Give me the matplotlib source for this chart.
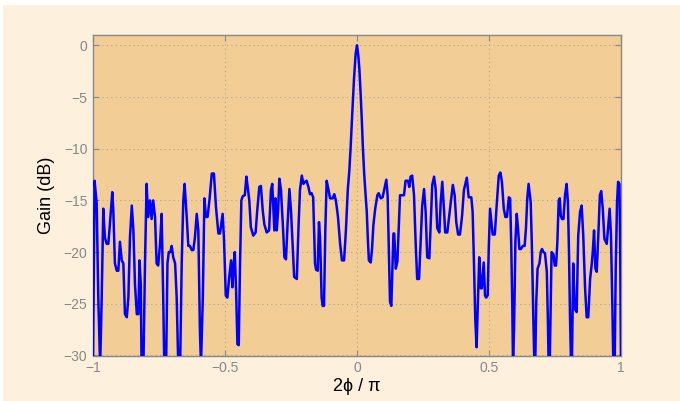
import numpy as np
import matplotlib
matplotlib.use('Agg')
import matplotlib.pyplot as plt
from matplotlib.patches import Rectangle

# normalised angle 2*phi/pi, left half
x_left = [
    -1.000, -0.994, -0.986, -0.980, -0.973, -0.967, -0.961, -0.955, -0.948, -0.942,
    -0.936, -0.927, -0.923, -0.917, -0.910, -0.904, -0.898, -0.891, -0.885, -0.879,
    -0.872, -0.866, -0.860, -0.853, -0.847, -0.841, -0.834, -0.828, -0.824, -0.819,
    -0.816, -0.809, -0.803, -0.797, -0.791, -0.784, -0.778, -0.772, -0.765, -0.759,
    -0.753, -0.746, -0.740, -0.734, -0.730, -0.723, -0.718, -0.713, -0.707, -0.702,
    -0.696, -0.689, -0.683, -0.677, -0.670, -0.664, -0.658, -0.653, -0.645, -0.639,
    -0.633, -0.626, -0.620, -0.614, -0.607, -0.601, -0.595, -0.591, -0.584, -0.578,
    -0.572, -0.566, -0.559, -0.550, -0.542, -0.534, -0.525, -0.519, -0.509, -0.504,
    -0.497, -0.491, -0.484, -0.477, -0.472, -0.467, -0.463, -0.458, -0.453, -0.448,
    -0.443, -0.438, -0.433, -0.425, -0.419, -0.414, -0.408, -0.402, -0.393, -0.384,
    -0.378, -0.370, -0.364, -0.357, -0.351, -0.342, -0.333, -0.326, -0.321, -0.317,
    -0.313, -0.309, -0.304, -0.299, -0.294, -0.288, -0.281, -0.275, -0.269, -0.263,
    -0.256, -0.250, -0.244, -0.238, -0.228, -0.222, -0.216, -0.209, -0.203, -0.197,
    -0.191, -0.184, -0.178, -0.172, -0.166, -0.159, -0.155, -0.149, -0.144, -0.140,
    -0.134, -0.130, -0.125, -0.120, -0.115, -0.110, -0.102, -0.092, -0.086, -0.080,
    -0.072, -0.064, -0.057, -0.049, -0.042, -0.035, -0.029, -0.024, -0.018, -0.011,
    -0.005,
]
gain_left = [
    -31.0, -13.1, -15.3, -24.4, -31.0, -24.4, -15.8, -18.6, -19.2, -19.2,
    -17.3, -14.2, -16.0, -21.1, -21.8, -21.8, -19.0, -20.8, -21.1, -26.0,
    -26.3, -24.4, -18.6, -15.5, -17.9, -23.1, -26.0, -26.0, -20.8, -23.1,
    -31.0, -31.0, -21.1, -13.4, -16.6, -15.0, -16.8, -15.0, -16.6, -21.1,
    -21.3, -19.2, -16.3, -24.4, -31.0, -31.0, -21.1, -20.0, -20.0, -19.4,
    -20.5, -21.1, -24.4, -31.0, -31.0, -21.1, -15.0, -13.4, -16.6, -19.4,
    -19.4, -19.8, -19.8, -18.6, -16.3, -17.9, -27.6, -31.0, -24.4, -14.8,
    -16.6, -16.6, -15.0, -12.4, -12.4, -15.7, -18.2, -18.2, -16.3, -18.6,
    -24.2, -24.4, -22.4, -20.8, -23.4, -21.1, -20.0, -23.7, -28.9, -29.0,
    -21.1, -15.0, -14.6, -14.5, -12.7, -13.7, -15.0, -17.6, -18.4, -18.1,
    -16.0, -13.7, -13.6, -16.0, -17.3, -18.1, -17.9, -14.0, -13.4, -15.7,
    -17.9, -14.8, -17.9, -16.0, -12.9, -14.0, -17.3, -20.5, -20.7, -17.3,
    -13.9, -16.0, -19.2, -22.4, -22.6, -17.9, -14.0, -12.6, -13.4, -13.2,
    -13.1, -13.7, -14.4, -14.3, -14.7, -21.1, -21.7, -21.8, -17.1, -18.6,
    -24.4, -25.2, -25.2, -17.9, -13.1, -13.7, -14.8, -14.8, -14.4, -15.0,
    -16.6, -19.2, -20.8, -20.8, -17.9, -14.0, -12.1, -9.8, -6.6, -3.1,
    -0.8,
]

# right half, main lobe peak included
x_right = [
    0.000, 0.005, 0.009, 0.014, 0.018, 0.022, 0.027, 0.031, 0.037, 0.041,
    0.045, 0.052, 0.057, 0.062, 0.069, 0.077, 0.082, 0.090, 0.097, 0.105,
    0.111, 0.116, 0.121, 0.125, 0.130, 0.134, 0.138, 0.141, 0.147, 0.153,
    0.159, 0.163, 0.172, 0.178, 0.184, 0.193, 0.198, 0.203, 0.209, 0.216,
    0.222, 0.228, 0.235, 0.241, 0.247, 0.254, 0.260, 0.266, 0.274, 0.279,
    0.285, 0.292, 0.298, 0.304, 0.312, 0.317, 0.323, 0.330, 0.334, 0.342,
    0.351, 0.363, 0.370, 0.376, 0.383, 0.390, 0.398, 0.405, 0.416, 0.423,
    0.433, 0.438, 0.443, 0.448, 0.453, 0.458, 0.463, 0.469, 0.473, 0.480,
    0.485, 0.489, 0.495, 0.499, 0.504, 0.509, 0.514, 0.522, 0.529, 0.537,
    0.543, 0.549, 0.556, 0.562, 0.568, 0.575, 0.580, 0.584, 0.588, 0.591,
    0.595, 0.600, 0.605, 0.610, 0.615, 0.621, 0.628, 0.635, 0.640, 0.645,
    0.650, 0.658, 0.663, 0.668, 0.672, 0.675, 0.679, 0.684, 0.691, 0.696,
    0.701, 0.706, 0.712, 0.719, 0.723, 0.726, 0.730, 0.734, 0.737, 0.744,
    0.749, 0.754, 0.759, 0.764, 0.768, 0.772, 0.777, 0.782, 0.788, 0.794,
    0.799, 0.803, 0.807, 0.811, 0.814, 0.819, 0.825, 0.832, 0.838, 0.845,
    0.851, 0.857, 0.864, 0.870, 0.876, 0.883, 0.889, 0.893, 0.898, 0.903,
    0.908, 0.914, 0.920, 0.925, 0.931, 0.937, 0.946, 0.952, 0.957, 0.962,
    0.967, 0.971, 0.976, 0.980, 0.985, 0.989, 0.994, 0.997, 1.000,
]
gain_right = [
    0.0, -1.0, -2.3, -4.8, -7.1, -9.7, -12.3, -13.9, -16.1, -18.7,
    -20.8, -21.0, -19.7, -17.4, -15.8, -14.5, -14.3, -14.8, -14.7, -13.7,
    -13.0, -14.5, -20.0, -24.8, -25.2, -21.6, -18.2, -18.2, -21.6, -20.9,
    -17.1, -14.5, -14.5, -14.5, -13.1, -13.1, -13.7, -12.7, -12.6, -14.5,
    -19.0, -22.6, -22.6, -19.0, -15.5, -13.9, -16.1, -20.5, -20.6, -17.4,
    -13.5, -12.7, -13.9, -17.7, -18.1, -15.2, -13.2, -16.1, -18.1, -18.1,
    -16.1, -13.5, -14.5, -17.1, -18.3, -18.3, -16.5, -14.0, -12.8, -14.7,
    -14.7, -16.1, -21.0, -26.5, -29.2, -24.8, -20.5, -23.5, -23.5, -21.0,
    -24.2, -24.4, -24.2, -19.7, -15.8, -17.1, -18.3, -18.3, -15.5, -12.6,
    -12.3, -13.2, -15.8, -16.6, -16.6, -14.7, -14.8, -19.0, -24.8, -31.0,
    -27.4, -19.0, -16.3, -17.7, -19.7, -19.7, -19.4, -19.4, -17.7, -14.8,
    -13.4, -15.2, -20.0, -26.5, -31.0, -31.0, -24.8, -21.6, -21.1, -20.0,
    -19.7, -20.0, -20.1, -21.9, -26.5, -31.0, -31.0, -24.8, -20.0, -20.2,
    -21.3, -21.3, -19.0, -15.0, -14.8, -16.5, -16.8, -16.8, -14.5, -13.4,
    -15.2, -20.0, -26.5, -31.0, -31.0, -21.1, -25.5, -25.8, -18.4, -16.1,
    -15.5, -18.4, -23.5, -26.3, -26.3, -22.6, -21.2, -20.0, -17.9, -21.6,
    -21.9, -18.4, -14.5, -14.1, -15.8, -18.7, -19.2, -17.4, -15.8, -18.4,
    -24.8, -31.0, -31.0, -21.6, -15.2, -13.2, -13.4, -20.0, -31.0,
]

x_ticks = [-1, -0.5, 0, 0.5, 1]
x_tick_labels = ['\u22121', '\u22120.5', '0', '0.5', '1']
y_ticks = [-30, -25, -20, -15, -10, -5, 0]
y_tick_labels = ['\u221230', '\u221225', '\u221220', '\u221215', '\u221210', '\u22125', '0']

plt.rcParams['font.family'] = ['Liberation Sans', 'DejaVu Sans']

x = np.array(x_left + x_right)
gain = np.array(gain_left + gain_right)

fig = plt.figure(figsize=(6.8, 4.01), dpi=100, facecolor='white')
# cream panel behind the plot, small white margin at top/left
fig.patches.append(Rectangle((3 / 680, 0), 1 - 3 / 680, 1 - 5 / 401,
                             transform=fig.transFigure, facecolor='#FDF0DC',
                             edgecolor='none', zorder=-10))

ax = fig.add_axes([93 / 680, 1 - 355.5 / 401, 528 / 680, 320.5 / 401])
ax.set_facecolor('#F2CE96')

ax.plot(x, gain, color='#0000FF', linewidth=1.8, zorder=3,
        solid_joinstyle='round', solid_capstyle='round')

ax.set_xlim(-1, 1)
ax.set_ylim(-30, 1)
ax.set_xticks(x_ticks)
ax.set_xticklabels(x_tick_labels)
ax.set_yticks(y_ticks)
ax.set_yticklabels(y_tick_labels)

grey = '#888888'
ax.grid(True, linestyle=(0, (1, 3)), color='#B0A590', linewidth=0.8)
ax.tick_params(direction='in', length=4, width=0.8, color=grey,
               labelcolor=grey, labelsize=10, top=True, right=True, pad=4)
for sp in ax.spines.values():
    sp.set_color(grey)
    sp.set_linewidth(1.0)

ax.set_xlabel('2\u03d5 / \u03c0', fontsize=13, labelpad=2)
ax.set_ylabel('Gain (dB)', fontsize=13, labelpad=6)

fig.savefig('out.png', dpi=100, facecolor=fig.get_facecolor())
